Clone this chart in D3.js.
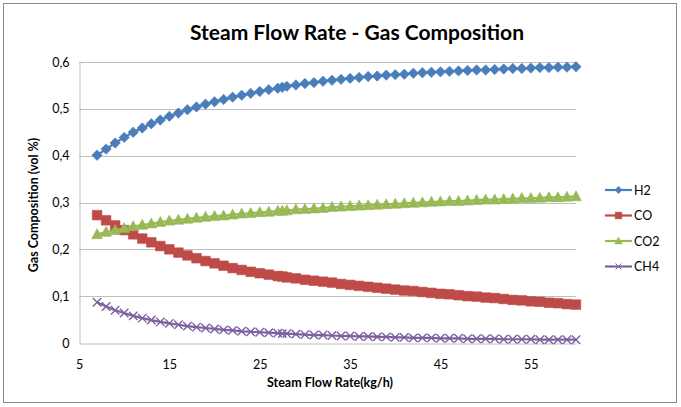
<!DOCTYPE html>
<html>
<head>
<meta charset="utf-8">
<script src="https://cdn.jsdelivr.net/npm/d3@7/dist/d3.min.js"></script>
<style>
  html, body { margin: 0; padding: 0; background: #fff; }
  svg { display: block; }
  text { font-family: Lato, "Open Sans", sans-serif; fill: #000; }
</style>
</head>
<body>
<svg id="chart" width="681" height="407"></svg>
<script>
// Steam flow rate (kg/h)
const steamFlow = [7,8,9,10,11,12,13,14,15,16,17,18,19,20,21,22,23,24,25,26,27,27.5,
  28,29,30,31,32,33,34,35,36,37,38,39,40,41,42,43,44,45,46,47,48,49,50,51,52,53,54,55,56,57,58,59,60];

// Gas composition (vol fraction) per species
const h2 = [0.401,0.414,0.427,0.439,0.450,0.459,0.468,0.476,0.484,0.491,0.498,0.504,0.510,0.515,0.520,0.525,0.529,0.533,0.537,0.541,0.544,0.546,
  0.548,0.551,0.554,0.556,0.559,0.561,0.563,0.565,0.567,0.569,0.570,0.572,0.573,0.574,0.576,0.577,0.578,0.579,0.580,0.581,0.582,0.583,0.583,0.584,0.585,0.586,0.586,0.587,0.588,0.588,0.589,0.589,0.590];
const co = [0.273,0.262,0.251,0.241,0.232,0.223,0.215,0.207,0.200,0.193,0.187,0.181,0.175,0.170,0.165,0.160,0.156,0.152,0.149,0.146,0.143,0.142,
  0.140,0.138,0.135,0.133,0.131,0.129,0.126,0.124,0.122,0.120,0.118,0.116,0.114,0.112,0.111,0.109,0.107,0.105,0.104,0.102,0.100,0.099,0.097,0.096,0.094,0.092,0.091,0.089,0.088,0.086,0.085,0.083,0.082];
const co2 = [0.232,0.237,0.241,0.245,0.249,0.252,0.255,0.258,0.261,0.263,0.265,0.267,0.269,0.271,0.272,0.274,0.276,0.277,0.279,0.280,0.282,0.282,
  0.283,0.285,0.286,0.287,0.288,0.290,0.291,0.292,0.293,0.294,0.295,0.296,0.297,0.298,0.299,0.300,0.301,0.302,0.303,0.303,0.304,0.305,0.306,0.306,0.307,0.308,0.309,0.309,0.310,0.311,0.311,0.312,0.313];
const ch4 = [0.087,0.078,0.070,0.064,0.058,0.053,0.049,0.045,0.042,0.039,0.036,0.034,0.032,0.030,0.028,0.027,0.025,0.024,0.023,0.022,0.021,0.020,
  0.020,0.019,0.018,0.017,0.017,0.016,0.015,0.015,0.014,0.014,0.013,0.013,0.012,0.012,0.011,0.011,0.011,0.010,0.010,0.010,0.009,0.009,0.009,0.009,0.008,0.008,0.008,0.008,0.007,0.007,0.007,0.007,0.007];

const seriesNames = ["H2", "CO", "CO2", "CH4"];
const xTicks = [5, 15, 25, 35, 45, 55];
const yTicks = [0, 0.1, 0.2, 0.3, 0.4, 0.5, 0.6];

const series = [
  { name: seriesNames[0], values: h2,  color: "#4A7EBB", marker: "diamond" },
  { name: seriesNames[1], values: co,  color: "#BE4B48", marker: "square" },
  { name: seriesNames[2], values: co2, color: "#98B954", marker: "triangle" },
  { name: seriesNames[3], values: ch4, color: "#7D60A0", marker: "cross" }
];

const svg = d3.select("#chart");

// Chart frame
svg.append("rect").attr("x", 3.5).attr("y", 3.5).attr("width", 673).attr("height", 399)
  .attr("fill", "#fff").attr("stroke", "#888").attr("stroke-width", 1);

const plot = { left: 79, right: 576, top: 62, bottom: 343 };
const x = d3.scaleLinear().domain([5, 60]).range([plot.left, plot.right]);
const y = d3.scaleLinear().domain([0, 0.6]).range([plot.bottom, plot.top]);

// Horizontal gridlines
svg.append("g").selectAll("line").data(yTicks.filter(d => d > 0)).join("line")
  .attr("x1", plot.left).attr("x2", plot.right)
  .attr("y1", d => Math.round(y(d)) + 0.5).attr("y2", d => Math.round(y(d)) + 0.5)
  .attr("stroke", "#BFBFBF").attr("stroke-width", 1);

// Axes
const fmt = d => d === 0 ? "0" : d3.format(".1f")(d).replace(".", ",");
const yAxis = svg.append("g").attr("transform", `translate(${plot.left + 0.5},0)`)
  .call(d3.axisLeft(y).tickValues(yTicks).tickFormat(fmt).tickSize(0).tickPadding(10));
const xAxis = svg.append("g").attr("transform", `translate(0,${Math.round(plot.bottom) + 0.5})`)
  .call(d3.axisBottom(x).tickValues(xTicks).tickFormat(d3.format("d")).tickSize(0).tickPadding(17));
[yAxis, xAxis].forEach(g => {
  g.select(".domain").attr("stroke", "#BFBFBF");
  g.selectAll("text").attr("font-family", "Lato, sans-serif").attr("font-size", 12.5).attr("fill", "#222");
});

// Marker shapes
function markerPath(kind, s) {
  const p = d3.path();
  if (kind === "diamond") {
    p.moveTo(0, -s); p.lineTo(s, 0); p.lineTo(0, s); p.lineTo(-s, 0); p.closePath();
  } else if (kind === "square") {
    p.rect(-s, -s, 2 * s, 2 * s);
  } else if (kind === "triangle") {
    p.moveTo(0, -s * 1.05); p.lineTo(s, s * 0.8); p.lineTo(-s, s * 0.8); p.closePath();
  } else {
    p.moveTo(-s, -s); p.lineTo(s, s); p.moveTo(s, -s); p.lineTo(-s, s);
  }
  return p.toString();
}
const markerSize = { diamond: 5.2, square: 4.8, triangle: 5.4, cross: 4.2 };

const line = d3.line().x(d => x(d[0])).y(d => y(d[1]));

series.forEach(s => {
  const pts = steamFlow.map((xv, i) => [xv, s.values[i]]);
  const g = svg.append("g");
  g.append("path").attr("d", line(pts)).attr("fill", "none")
    .attr("stroke", s.color).attr("stroke-width", 2.2);
  g.selectAll("path.m").data(pts).join("path").attr("class", "m")
    .attr("transform", d => `translate(${x(d[0])},${y(d[1])})`)
    .attr("d", markerPath(s.marker, markerSize[s.marker]))
    .attr("fill", s.marker === "cross" ? "none" : s.color)
    .attr("stroke", s.color)
    .attr("stroke-width", s.marker === "cross" ? 1.4 : 0.6);
});

// Legend
const legend = svg.append("g").attr("transform", "translate(605,190)");
series.forEach((s, i) => {
  const g = legend.append("g").attr("transform", `translate(0,${i * 25.5})`);
  g.append("line").attr("x1", 0).attr("x2", 27).attr("stroke", s.color).attr("stroke-width", 2.2);
  g.append("path").attr("transform", "translate(13.5,0)")
    .attr("d", markerPath(s.marker, markerSize[s.marker] * 0.7))
    .attr("fill", s.marker === "cross" ? "none" : s.color)
    .attr("stroke", s.color).attr("stroke-width", s.marker === "cross" ? 1 : 0.5);
  g.append("text").attr("x", 29).attr("y", 4.5).attr("font-size", 12.5).attr("fill", "#222").text(s.name);
});

// Titles
svg.append("text").attr("x", 357).attr("y", 40).attr("text-anchor", "middle")
  .attr("font-size", 21).attr("font-weight", "bold").text("Steam Flow Rate - Gas Composition");
svg.append("text").attr("x", 330).attr("y", 387).attr("text-anchor", "middle")
  .attr("font-size", 12.5).attr("font-weight", "bold").text("Steam Flow Rate(kg/h)");
svg.append("text").attr("transform", "translate(38,205) rotate(-90)").attr("text-anchor", "middle")
  .attr("font-size", 12.5).attr("font-weight", "bold").text("Gas Composition (vol %)");
</script>
</body>
</html>
